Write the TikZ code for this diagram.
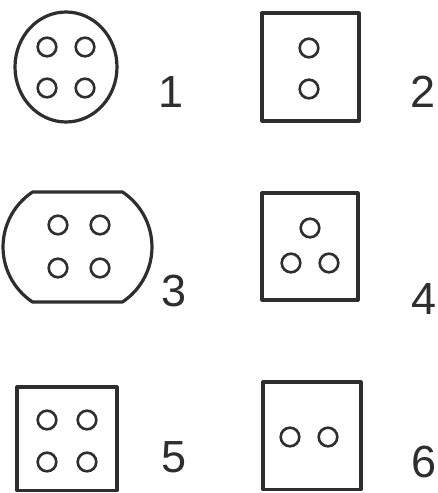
\documentclass[tikz,border=0pt]{standalone}
\usepackage{fontspec}
\setmainfont{Liberation Sans}
\definecolor{ink}{HTML}{2E2E2E}
\begin{document}
\begin{tikzpicture}[x=1pt,y=1pt,
  frame/.style={draw=ink,line width=3.2pt,line join=round},
  pin/.style={draw=ink,line width=2.6pt},
  lbl/.style={text=ink,font=\fontsize{45}{45}\selectfont,inner sep=0pt,anchor=base}]
\fill[white] (0,0) rectangle (437,493);
\useasboundingbox (0,0) rectangle (437,493);
% 1
\draw[frame] (66,426) ellipse[x radius=51,y radius=55];
\foreach \p in {(47,446),(85,446),(47,405),(85,405)} \draw[pin] \p circle[radius=9.3];
\node[lbl] (l1) at (171,385) {1};
% 2
\draw[frame] (262,480) rectangle (359,372);
\foreach \p in {(309,445),(309,404)} \draw[pin] \p circle[radius=9.3];
\node[lbl] (l2) at (423,385) {2};
% 3
\draw[frame] (32.5,301) -- (122.5,301) arc[start angle=56.4,end angle=-56.4,radius=66]
  -- (32.5,191) arc[start angle=236.4,end angle=123.6,radius=66] -- cycle;
\foreach \p in {(58,268),(100,268),(58,225),(100,225)} \draw[pin] \p circle[radius=9.3];
\node[lbl] (l3) at (174,186) {3};
% 4
\draw[frame] (262,300) rectangle (358,193);
\foreach \p in {(310,265),(291,230),(329,230)} \draw[pin] \p circle[radius=9.3];
\node[lbl] (l4) at (424,178) {4};
% 5
\draw[frame] (17,106) rectangle (117,2.5);
\foreach \p in {(47,73),(87,73),(47,31),(87,31)} \draw[pin] \p circle[radius=9.3];
\node[lbl] (l5) at (174,20) {5};
% 6
\draw[frame] (263,111) rectangle (361,3.5);
\foreach \p in {(290,56),(328,56)} \draw[pin] \p circle[radius=9.3];
\node[lbl] (l6) at (424,16) {6};
\end{tikzpicture}
\end{document}
